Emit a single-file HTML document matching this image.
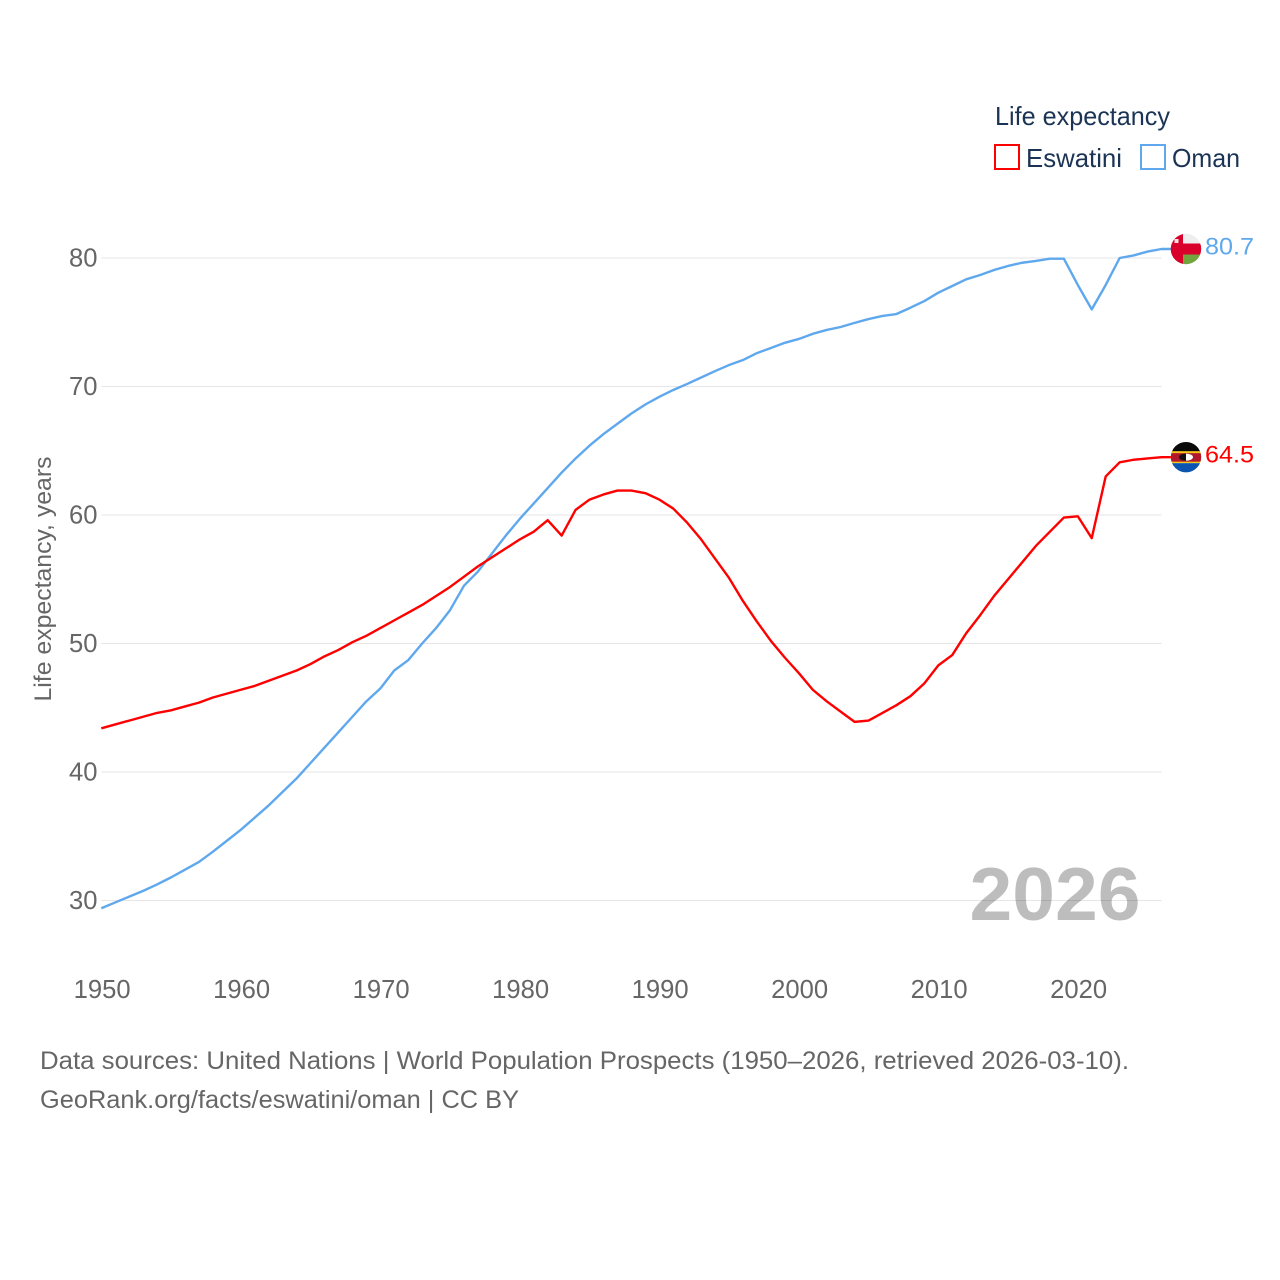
<!DOCTYPE html>
<html lang="en">
<head>
<meta charset="utf-8">
<title>Life expectancy: Eswatini and Oman</title>
<style>
html,body{margin:0;padding:0;background:#fff;}
svg{display:block;font-family:"Liberation Sans",sans-serif;}
</style>
</head>
<body>
<svg id="chart" xmlns="http://www.w3.org/2000/svg" width="1280" height="1280" viewBox="0 0 1280 1280">
  <defs>
    <clipPath id="flag-clip"><circle cx="0" cy="0" r="15.2"></circle></clipPath>
  </defs>
  <rect x="0" y="0" width="1280" height="1280" fill="#fff"></rect>

  <g id="grid"></g>
  <g id="yticks"></g>
  <g id="xticks"></g>

  <text x="51" y="579" transform="rotate(-90 51 579)" text-anchor="middle" font-size="24" fill="#666" textLength="245" lengthAdjust="spacingAndGlyphs">Life expectancy, years</text>

  <text x="969.5" y="920" font-size="75" font-weight="700" fill="#000" fill-opacity="0.26" textLength="171" lengthAdjust="spacingAndGlyphs">2026</text>

  <g id="series"></g>

  <g id="flag-oman">
    <g clip-path="url(#flag-clip)">
      <rect x="-16" y="-16" width="32" height="32" fill="#eeeeee"></rect>
      <rect x="-16" y="5.5" width="32" height="11" fill="#73a53f"></rect>
      <rect x="-16" y="-5.5" width="32" height="11" fill="#d9002c"></rect>
      <rect x="-16" y="-16" width="13" height="32" fill="#d9002c"></rect>
      <rect x="-11.5" y="-10" width="4" height="4" fill="#f2dfe0"></rect>
    </g>
  </g>
  <g id="flag-eswatini">
    <g clip-path="url(#flag-clip)">
      <rect x="-16" y="-16" width="32" height="11" fill="#0a0a0a"></rect>
      <rect x="-16" y="-6" width="32" height="12" fill="#f5c518"></rect>
      <rect x="-16" y="-4" width="32" height="8.5" fill="#b1182c"></rect>
      <rect x="-16" y="6" width="32" height="10" fill="#0b55b0"></rect>
      <ellipse cx="0" cy="0" rx="7" ry="3.6" fill="#111"></ellipse>
      <path d="M0,-3.6 A7,3.6 0 0 1 0,3.6 Z" fill="#fff"></path>
    </g>
  </g>
  <text id="value-oman" x="1205" font-size="24" fill="#5fa8ee" textLength="49" lengthAdjust="spacingAndGlyphs"></text>
  <text id="value-eswatini" x="1205" font-size="24" fill="#ff0000" textLength="49" lengthAdjust="spacingAndGlyphs"></text>

  <g>
    <text x="995" y="125" font-size="26" fill="#1b3354" textLength="175" lengthAdjust="spacingAndGlyphs">Life expectancy</text>
    <g>
      <rect x="995" y="145" width="24" height="24" fill="#fff" stroke="#ff0000" stroke-width="2"></rect>
      <text x="1026" y="167" font-size="26" fill="#1b3354" textLength="96" lengthAdjust="spacingAndGlyphs">Eswatini</text>
    </g>
    <g>
      <rect x="1141" y="145" width="24" height="24" fill="#fff" stroke="#5fa8ee" stroke-width="2"></rect>
      <text x="1172" y="167" font-size="26" fill="#1b3354" textLength="68" lengthAdjust="spacingAndGlyphs">Oman</text>
    </g>
  </g>

  <text x="40" y="1069" font-size="25" fill="#666" textLength="1089" lengthAdjust="spacingAndGlyphs">Data sources: United Nations | World Population Prospects (1950–2026, retrieved 2026-03-10).</text>
  <text x="40" y="1108" font-size="25" fill="#666" textLength="479" lengthAdjust="spacingAndGlyphs">GeoRank.org/facts/eswatini/oman | CC BY</text>
</svg>
<script>
var startYear = 1950;
var yTickValues = [30, 40, 50, 60, 70, 80];
var xTickValues = [1950, 1960, 1970, 1980, 1990, 2000, 2010, 2020];
var eswatiniValues = [
  43.4, 43.7, 44.0, 44.3, 44.6, 44.8, 45.1, 45.4, 45.8, 46.1,
  46.4, 46.7, 47.1, 47.5, 47.9, 48.4, 49.0, 49.5, 50.1, 50.6,
  51.2, 51.8, 52.4, 53.0, 53.7, 54.4, 55.2, 56.0, 56.7, 57.4,
  58.1, 58.7, 59.6, 58.4, 60.4, 61.2, 61.6, 61.9, 61.9, 61.7,
  61.2, 60.5, 59.4, 58.1, 56.6, 55.1, 53.3, 51.7, 50.2, 48.9,
  47.7, 46.4, 45.5, 44.7, 43.9, 44.0, 44.6, 45.2, 45.9, 46.9,
  48.3, 49.1, 50.8, 52.2, 53.7, 55.0, 56.3, 57.6, 58.7, 59.8,
  59.9, 58.2, 63.0, 64.1, 64.3, 64.4, 64.5
];
var omanValues = [
  29.4, 29.85, 30.3, 30.75, 31.25, 31.8, 32.4, 33.0, 33.8, 34.65,
  35.5, 36.45, 37.4, 38.45, 39.5, 40.7, 41.9, 43.1, 44.3, 45.5,
  46.5, 47.9, 48.7, 50.0, 51.2, 52.6, 54.5, 55.6, 57.0, 58.4,
  59.7, 60.9, 62.1, 63.3, 64.4, 65.4, 66.3, 67.1, 67.9, 68.6,
  69.2, 69.73, 70.2, 70.7, 71.2, 71.67, 72.06, 72.6, 73.0, 73.4,
  73.7, 74.1, 74.4, 74.63, 74.95, 75.25, 75.49, 75.64, 76.13, 76.65,
  77.3, 77.82, 78.34, 78.68, 79.07, 79.38, 79.63, 79.77, 79.95, 79.95,
  77.9, 76.0, 77.9, 80.0, 80.2, 80.5, 80.7
];

var NS = 'http://www.w3.org/2000/svg';
function xScale(year) { return 101.3 + (year - 1950) * 13.95; }
function yScale(value) { return 258 + (80 - value) * 12.85; }
function make(tag, attrs, parent) {
  var el = document.createElementNS(NS, tag);
  for (var k in attrs) { el.setAttribute(k, attrs[k]); }
  parent.appendChild(el);
  return el;
}

var gridGroup = document.getElementById('grid');
var yGroup = document.getElementById('yticks');
var xGroup = document.getElementById('xticks');
var seriesGroup = document.getElementById('series');
var gridRight = xScale(startYear + eswatiniValues.length - 1);

yTickValues.forEach(function (v) {
  var line = make('line', { x1: 101.3, x2: gridRight, y1: yScale(v), y2: yScale(v), stroke: '#e6e6e6', 'stroke-width': 1 }, gridGroup);
  
  
  var label = make('text', { x: 97.5, y: yScale(v) + 8.5, 'text-anchor': 'end', 'font-size': 25.6, fill: '#666' }, yGroup);
  
  
  label.textContent = v;
});

xTickValues.forEach(function (y) {
  var label = make('text', { x: xScale(y) + 0.8, y: 998, 'text-anchor': 'middle', 'font-size': 25.6, fill: '#666' }, xGroup);
  
  
  label.textContent = y;
});

function drawSeries(values, color, key) {
  var pts = values.map(function (v, i) {
    return xScale(startYear + i).toFixed(2) + ',' + yScale(v).toFixed(2);
  });
  var lastY = yScale(values[values.length - 1]);
  pts.push('1172,' + lastY.toFixed(2));
  var line = make('polyline', { points: pts.join(' '), fill: 'none', stroke: color, 'stroke-width': 2.4, 'stroke-linejoin': 'round' }, seriesGroup);
  
  
  document.getElementById('flag-' + key).setAttribute('transform', 'translate(1186 ' + lastY.toFixed(2) + ')');
  var valueLabel = document.getElementById('value-' + key);
  valueLabel.setAttribute('y', (lastY + 5.5).toFixed(2));
  valueLabel.textContent = values[values.length - 1].toFixed(1);
}
drawSeries(omanValues, '#5fa8ee', 'oman');
drawSeries(eswatiniValues, '#ff0000', 'eswatini');
</script>
</body>
</html>
